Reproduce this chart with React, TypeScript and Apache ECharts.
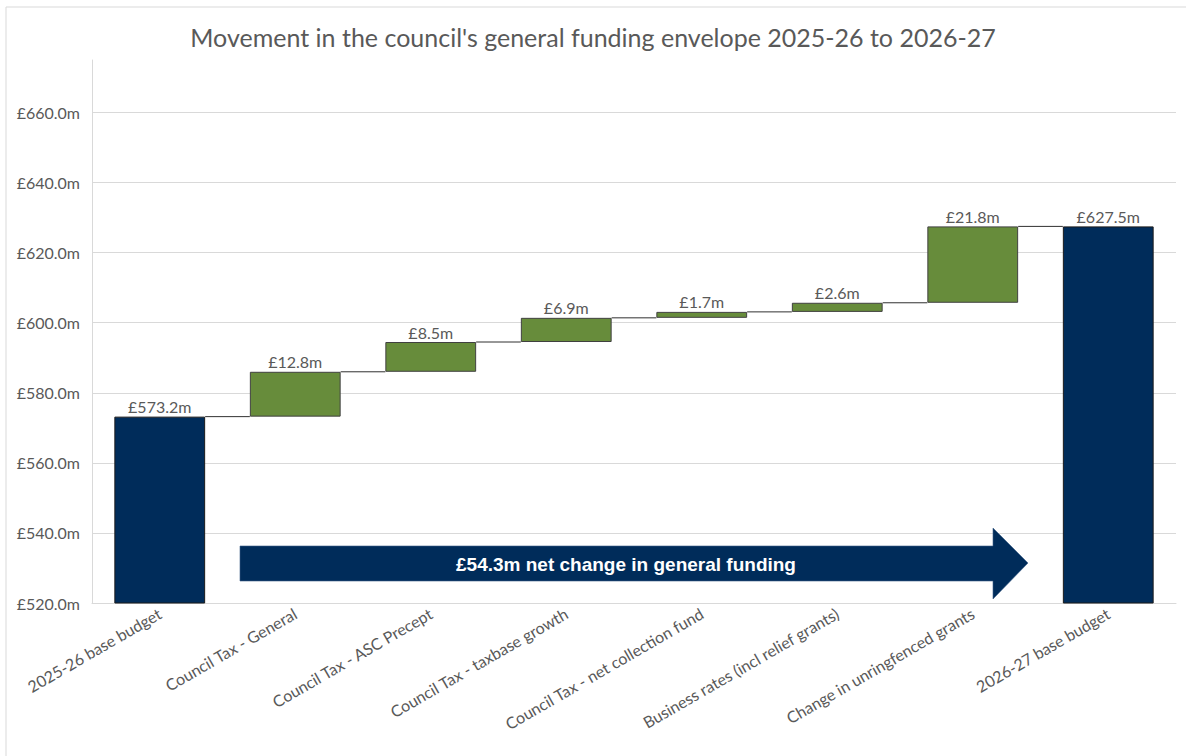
import React, { useEffect, useRef } from "react";
import * as echarts from "echarts";

// Funding movements, £m
const categories = [
  "2025-26 base budget",
  "Council Tax - General",
  "Council Tax - ASC Precept",
  "Council Tax - taxbase growth",
  "Council Tax - net collection fund",
  "Business rates (incl relief grants)",
  "Change in unringfenced grants",
  "2026-27 base budget",
];
const startBudget = 573.2;
const changes = [12.8, 8.5, 6.9, 1.7, 2.6, 21.8];
const endBudget = 627.5;
const yTicks = [540, 560, 580, 600, 620, 640, 660];

const NAVY = "#002C5A";
const GREEN = "#678C3B";
const TEXT = "#595959";
const GRID = "#D9D9D9";
const FONT = "Lato, 'Open Sans', sans-serif";

const money = (v: number) => `£${v.toFixed(1)}m`;

export default function App() {
  const ref = useRef<HTMLDivElement>(null);

  useEffect(() => {
    if (!ref.current) return;
    const chart = echarts.init(ref.current, undefined, { renderer: "svg" });

    // running totals: level before each change bar, and after each bar
    const n = categories.length;
    const baseData: (number | string)[] = [];
    const changeData: (number | string)[] = [];
    const totalData: (number | string)[] = [];
    const levels: number[] = [];
    let running = startBudget;
    for (let i = 0; i < n; i++) {
      if (i === 0) {
        baseData.push(0);
        changeData.push("-");
        totalData.push(startBudget);
        levels.push(startBudget);
      } else if (i === n - 1) {
        baseData.push(0);
        changeData.push("-");
        totalData.push(endBudget);
      } else {
        const d = changes[i - 1];
        baseData.push(+running.toFixed(1));
        changeData.push(d);
        totalData.push("-");
        running += d;
        levels.push(+running.toFixed(1));
      }
    }
    const netChange = changes.reduce((a, b) => a + b, 0);
    const barRatio = 0.67;

    const valueLabel = {
      show: true,
      position: "top",
      distance: 2,
      color: TEXT,
      fontSize: 16,
      fontFamily: FONT,
      formatter: (p: any) => money(p.value),
    };

    chart.setOption({
      animation: false,
      textStyle: { fontFamily: FONT },
      title: {
        text: "Movement in the council's general funding envelope 2025-26 to 2026-27",
        left: "center",
        top: 19,
        textStyle: { fontFamily: FONT, fontSize: 25, fontWeight: "normal", color: TEXT },
      },
      grid: { left: 92, right: 10, top: 60, bottom: 153, containLabel: false },
      xAxis: {
        type: "category",
        data: categories,
        axisTick: { show: false },
        axisLine: { show: true, lineStyle: { color: GRID, width: 1 } },
        axisLabel: {
          interval: 0,
          rotate: 30,
          margin: 9,
          color: TEXT,
          fontSize: 16,
          fontFamily: FONT,
        },
      },
      yAxis: {
        type: "value",
        min: 520,
        max: 675,
        interval: 20,
        splitLine: { show: false },
        axisTick: { show: false },
        axisLine: { show: true, lineStyle: { color: GRID, width: 1 } },
        axisLabel: {
          margin: 12,
          color: TEXT,
          fontSize: 16,
          fontFamily: FONT,
          showMaxLabel: false,
          formatter: (v: number) => (v > 660 ? "" : money(v)),
        },
      },
      series: [
        {
          name: "base",
          type: "bar",
          stack: "w",
          barWidth: `${barRatio * 100}%`,
          silent: true,
          itemStyle: { color: "transparent" },
          data: baseData,
          markLine: {
            silent: true,
            symbol: "none",
            label: { show: false },
            lineStyle: { color: GRID, width: 1, type: "solid" },
            data: yTicks.map((v) => ({ yAxis: v })),
            z: 0,
          },
          z: 1,
        },
        {
          name: "total",
          type: "bar",
          stack: "w",
          barWidth: `${barRatio * 100}%`,
          itemStyle: { color: NAVY, borderColor: "#1a1a1a", borderWidth: 1 },
          label: valueLabel,
          data: totalData,
          z: 3,
        },
        {
          name: "change",
          type: "bar",
          stack: "w",
          barWidth: `${barRatio * 100}%`,
          itemStyle: { color: GREEN, borderColor: "#404040", borderWidth: 1 },
          label: valueLabel,
          data: changeData,
          z: 3,
        },
        {
          name: "connectors",
          type: "custom",
          silent: true,
          renderItem: (params: any, api: any) => {
            const i = api.value(0);
            const level = api.value(1);
            const half = (api.size([1, 0])[0] * barRatio) / 2;
            const a = api.coord([i, level]);
            const b = api.coord([i + 1, level]);
            return {
              type: "line",
              shape: { x1: a[0] + half, y1: a[1], x2: b[0] - half, y2: b[1] },
              style: { stroke: "#303030", lineWidth: 1 },
            };
          },
          data: levels.map((v, i) => [i, v]),
          z: 4,
        },
      ],
      graphic: [
        {
          type: "rect",
          shape: { x: 6, y: 7, width: 1300, height: 900 },
          style: { fill: "none", stroke: GRID, lineWidth: 1 },
          silent: true,
          z: -10,
        },
        {
          type: "polygon",
          shape: {
            points: [
              [240, 546],
              [993, 546],
              [993, 528],
              [1028, 563],
              [993, 599],
              [993, 581],
              [240, 581],
            ],
          },
          style: { fill: NAVY, stroke: "#3d5f88", lineWidth: 0.6 },
          z: 10,
        },
        {
          type: "text",
          x: 626,
          y: 564,
          style: {
            text: `£${netChange.toFixed(1)}m net change in general funding`,
            fill: "#ffffff",
            font: "bold 19px 'Liberation Sans', Arial, sans-serif",
            align: "center",
            verticalAlign: "middle",
          },
          z: 11,
        },
      ],
    });

    return () => chart.dispose();
  }, []);

  return (
    <div
      ref={ref}
      style={{ position: "fixed", left: 0, top: 0, width: 1186, height: 756, background: "#fff" }}
    />
  );
}
